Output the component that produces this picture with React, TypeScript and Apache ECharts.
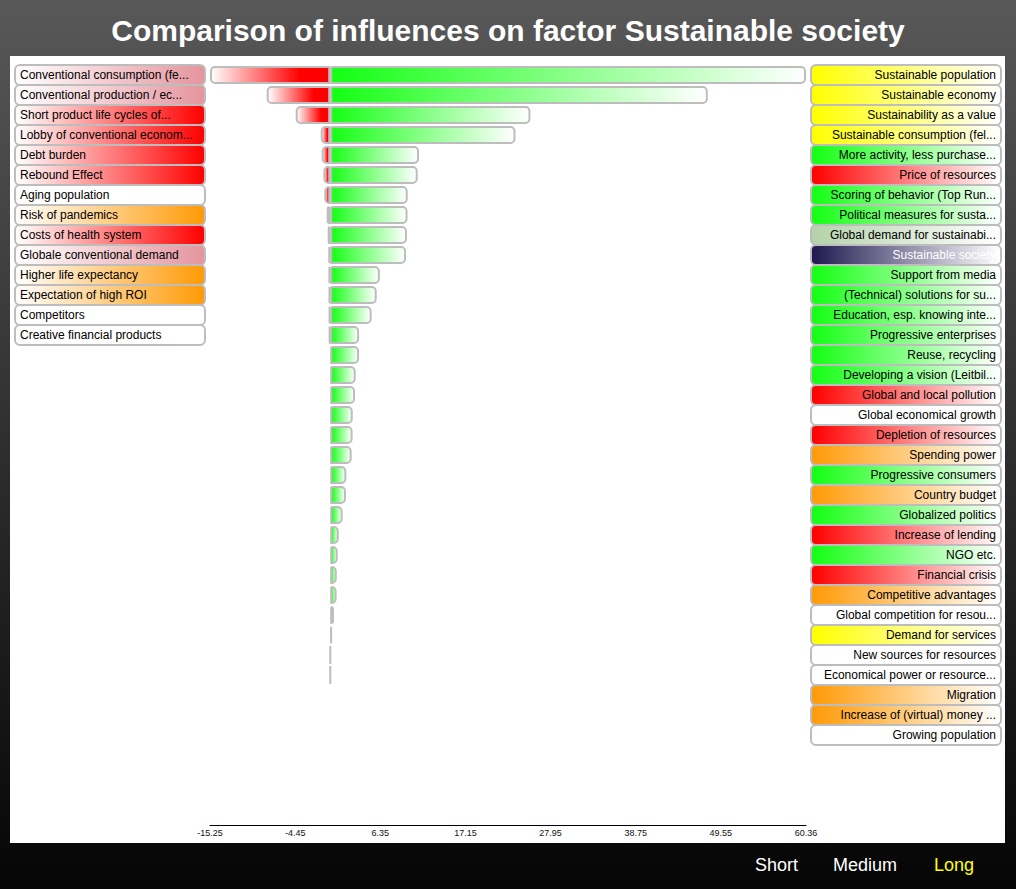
import React, { useEffect, useRef } from "react";
import * as echarts from "echarts";

const TITLE = "Comparison of influences on factor Sustainable society";
const FONT = "'Liberation Sans', Arial, Helvetica, sans-serif";

// Negative influences (left side), top to bottom
const negativeNames = [
  "Conventional consumption (fe...",
  "Conventional production / ec...",
  "Short product life cycles of...",
  "Lobby of conventional econom...",
  "Debt burden",
  "Rebound Effect",
  "Aging population",
  "Risk of pandemics",
  "Costs of health system",
  "Globale conventional demand",
  "Higher life expectancy",
  "Expectation of high ROI",
  "Competitors",
  "Creative financial products",
];
const negativeColors = [
  "pink", "pink", "red", "red", "red", "red", "white", "orange",
  "red", "pink", "orange", "orange", "white", "white",
];
const negativeValues = [
  -15.25, -8.06, -4.38, -1.2, -1.08, -0.87, -0.75, -0.45, -0.32, -0.24,
  -0.2, -0.18, -0.16, -0.14,
];

// Positive influences (right side), top to bottom
const positiveNames = [
  "Sustainable population",
  "Sustainable economy",
  "Sustainability as a value",
  "Sustainable consumption (fel...",
  "More activity, less purchase...",
  "Price of resources",
  "Scoring of behavior (Top Run...",
  "Political measures for susta...",
  "Global demand for sustainabi...",
  "Sustainable society",
  "Support from media",
  "(Technical) solutions for su...",
  "Education, esp. knowing inte...",
  "Progressive enterprises",
  "Reuse, recycling",
  "Developing a vision (Leitbil...",
  "Global and local pollution",
  "Global economical growth",
  "Depletion of resources",
  "Spending power",
  "Progressive consumers",
  "Country budget",
  "Globalized politics",
  "Increase of lending",
  "NGO etc.",
  "Financial crisis",
  "Competitive advantages",
  "Global competition for resou...",
  "Demand for services",
  "New sources for resources",
  "Economical power or resource...",
  "Migration",
  "Increase of (virtual) money ...",
  "Growing population",
];
const positiveColors = [
  "yellow", "yellow", "yellow", "yellow", "green", "red", "green", "green",
  "sage", "navy", "green", "green", "green", "green", "green", "green",
  "red", "white", "red", "orange", "green", "orange", "green", "red",
  "green", "red", "orange", "white", "yellow", "white", "white", "orange",
  "orange", "white",
];
const positiveValues = [
  60.36, 47.9, 25.4, 23.5, 11.27, 11.1, 9.83, 9.81, 9.74, 9.62,
  6.3, 5.9, 5.26, 3.67, 3.66, 3.23, 3.15, 2.86, 2.84, 2.72,
  2.05, 2.0, 1.58, 1.08, 0.95, 0.83, 0.81, 0.48, 0.22, 0.03, 0.02,
];

const tickValues = [-15.25, -4.45, 6.35, 17.15, 27.95, 38.75, 49.55, 60.36];
const tickLabels = ["-15.25", "-4.45", "6.35", "17.15", "27.95", "38.75", "49.55", "60.36"];

const horizonLabels = ["Short", "Medium", "Long"];
const activeHorizon = "Long";

const ROWS = 38;

const palette: Record<string, string> = {
  red: "#ff0000",
  green: "#14ff14",
  yellow: "#ffff00",
  orange: "#ff9a06",
  pink: "#e5959e",
  white: "#ffffff",
  sage: "#b4d2aa",
  navy: "#1e1a50",
};

function pad(names: string[]) {
  const out = names.slice();
  for (let i = names.length; i < ROWS; i++) out.push("__" + i);
  return out;
}

function buildRich(side: "l" | "r") {
  const rich: Record<string, any> = {};
  Object.keys(palette).forEach((k) => {
    const c = palette[k];
    const stops =
      side === "l"
        ? [
            { offset: 0, color: "#ffffff" },
            { offset: 1, color: c },
          ]
        : [
            { offset: 0, color: c },
            { offset: 1, color: "#ffffff" },
          ];
    rich[side + k] = {
      width: 180,
      height: 16,
      lineHeight: 16,
      padding: [1, 4, 1, 4],
      align: side === "l" ? "left" : "right",
      fontSize: 12,
      fontFamily: FONT,
      color: k === "navy" ? "#ffffff" : "#000000",
      borderColor: "#bdbdbd",
      borderWidth: 2,
      borderRadius: 4,
      backgroundColor: new echarts.graphic.LinearGradient(0, 0, 1, 0, stops),
    };
  });
  return rich;
}

export default function App() {
  const ref = useRef<HTMLDivElement>(null);

  useEffect(() => {
    if (!ref.current) return;
    const chart = echarts.init(ref.current, null, { renderer: "svg" });

    const leftCats = pad(negativeNames);
    const rightCats = pad(positiveNames);

    const horizonX = [755, 833, 934];

    const option: any = {
      animation: false,
      title: {
        text: TITLE,
        left: "center",
        top: 15,
        padding: 0,
        textStyle: {
          fontSize: 30,
          fontWeight: "bold",
          color: "#ffffff",
          fontFamily: FONT,
        },
      },
      graphic: [
        {
          type: "rect",
          z: -100,
          silent: true,
          shape: { x: 0, y: 0, width: 1016, height: 889 },
          style: {
            fill: new echarts.graphic.LinearGradient(0, 0, 0, 1, [
              { offset: 0, color: "#585858" },
              { offset: 1, color: "#050505" },
            ]),
          },
        },
        {
          type: "rect",
          z: -90,
          silent: true,
          shape: { x: 10, y: 56, width: 995, height: 787 },
          style: { fill: "#ffffff" },
        },
        ...horizonLabels.map((t, i) => ({
          type: "text",
          z: 10,
          x: horizonX[i],
          y: 865,
          style: {
            text: t,
            fill: t === activeHorizon ? "#ffff00" : "#ffffff",
            font: `18px ${FONT}`,
            textVerticalAlign: "middle",
            verticalAlign: "middle",
          },
        })),
      ],
      grid: {
        left: 210,
        right: 210,
        top: 65,
        height: 760,
        containLabel: false,
        outerBoundsMode: "none",
      },
      xAxis: {
        type: "value",
        min: -15.25,
        max: 60.36,
        position: "bottom",
        axisLine: { show: true, onZero: false, lineStyle: { color: "#000000", width: 1 } },
        axisTick: { show: false },
        splitLine: { show: false },
        axisLabel: {
          customValues: tickValues,
          fontSize: 9,
          color: "#111111",
          margin: 3,
          fontFamily: FONT,
          formatter: (v: number) => {
            const i = tickValues.findIndex((t) => Math.abs(t - v) < 1e-6);
            return i >= 0 ? tickLabels[i] : "";
          },
        },
      },
      yAxis: [
        {
          type: "category",
          position: "left",
          inverse: true,
          data: leftCats,
          axisLine: { show: false },
          axisTick: { show: false },
          splitLine: { show: false },
          axisLabel: {
            interval: 0,
            margin: 6,
            formatter: (v: string, i: number) =>
              i < negativeNames.length ? `{l${negativeColors[i]}|${v}}` : "",
            rich: buildRich("l"),
          },
        },
        {
          type: "category",
          position: "right",
          inverse: true,
          data: rightCats,
          axisLine: { show: false },
          axisTick: { show: false },
          splitLine: { show: false },
          axisLabel: {
            interval: 0,
            margin: 6,
            formatter: (v: string, i: number) =>
              i < positiveNames.length ? `{r${positiveColors[i]}|${v}}` : "",
            rich: buildRich("r"),
          },
        },
      ],
      series: [
        {
          type: "bar",
          name: "negative",
          yAxisIndex: 0,
          xAxisIndex: 0,
          data: negativeValues,
          barWidth: 18,
          silent: true,
          itemStyle: {
            color: new echarts.graphic.LinearGradient(0, 0, 1, 0, [
              { offset: 0, color: "#ffffff" },
              { offset: 0.75, color: "#ff0000" },
              { offset: 1, color: "#ff0000" },
            ]),
            borderColor: "#bdbdbd",
            borderWidth: 2,
            borderRadius: [4, 0, 0, 4],
          },
        },
        {
          type: "bar",
          name: "positive",
          yAxisIndex: 1,
          xAxisIndex: 0,
          data: positiveValues,
          barWidth: 18,
          silent: true,
          itemStyle: {
            color: new echarts.graphic.LinearGradient(0, 0, 1, 0, [
              { offset: 0, color: "#14ff14" },
              { offset: 1, color: "#ffffff" },
            ]),
            borderColor: "#bdbdbd",
            borderWidth: 2,
            borderRadius: [0, 4, 4, 0],
          },
        },
      ],
    };

    chart.setOption(option);
    return () => chart.dispose();
  }, []);

  return (
    <div
      ref={ref}
      style={{ position: "absolute", left: 0, top: 0, width: 1016, height: 889 }}
    />
  );
}
